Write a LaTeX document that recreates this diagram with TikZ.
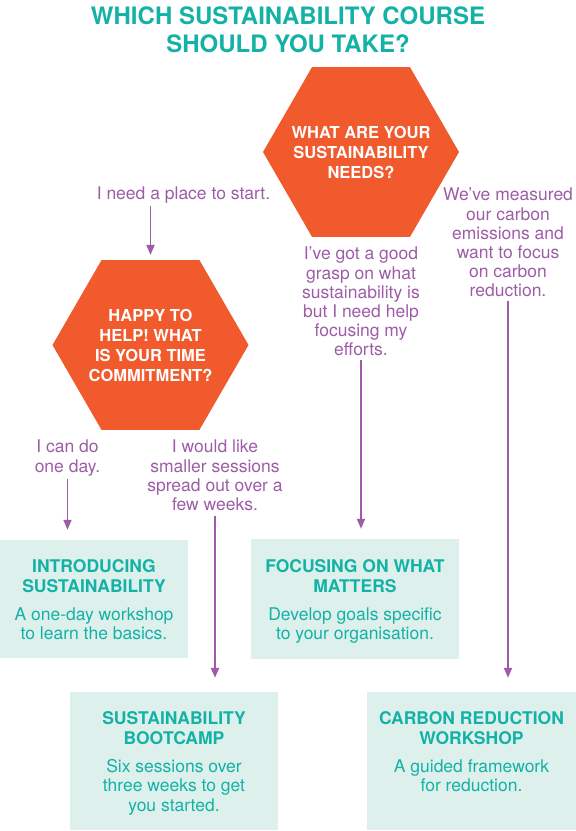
\documentclass[tikz,border=0pt]{standalone}
\usepackage{fontspec}
\setmainfont{TeX Gyre Heros}
\usetikzlibrary{shapes.geometric, positioning, arrows.meta}

\definecolor{hexorange}{HTML}{F15A2C}
\definecolor{titleteal}{HTML}{14B2A6}
\definecolor{boxfill}{HTML}{DDF0EC}
\definecolor{labelpurple}{HTML}{9E5CA7}

\tikzset{
  question/.style={regular polygon, regular polygon sides=6, minimum size=196pt,
    inner sep=0pt, fill=hexorange},
  questiontext/.style={inner sep=0pt, align=center, text=white,
    font=\fontsize{16.5}{20}\selectfont\bfseries},
  answer/.style={anchor=north, inner sep=0pt, align=center, text=labelpurple,
    font=\fontsize{17.5}{19.2}\selectfont},
  course/.style={fill=boxfill, inner sep=0pt},
  coursetext/.style={inner sep=0pt, align=center, text=titleteal,
    font=\fontsize{17.5}{19.5}\selectfont},
  flow/.style={draw=labelpurple, line width=1.8pt,
    -{Triangle[length=10pt, width=8pt]}},
}

\begin{document}
\begin{tikzpicture}[x=1pt, y=-1pt]
  \useasboundingbox (0,0) rectangle (576,831);

  % title
  \node[anchor=north, inner sep=0pt, align=center, text=titleteal,
    font=\fontsize{24}{28}\selectfont\bfseries] (title) at (288,7)
    {WHICH SUSTAINABILITY COURSE\\SHOULD YOU TAKE?};

  % questions
  \node[question] (needs) at (361,152) {};
  \node[questiontext] (needs-text) at (needs) {WHAT ARE YOUR\\SUSTAINABILITY\\NEEDS?};
  \node[question] (time) at (150.5,345) {};
  \node[questiontext] (time-text) at (time) {HAPPY TO\\HELP! WHAT\\IS YOUR TIME\\COMMITMENT?};

  % answers
  \node[answer] (start) at (183.5,187) {I need a place to start.};
  \node[answer] (oneday) at (67.5,440) {I can do\\one day.};
  \node[answer] (weeks) at (215,440) {I would like\\smaller sessions\\spread out over a\\few weeks.};
  \node[answer] (grasp) at (361,247) {I’ve got a good\\grasp on what\\sustainability is\\but I need help\\focusing my\\efforts.};
  \node[answer] (measured) at (508,188) {We’ve measured\\our carbon\\emissions and\\want to focus\\on carbon\\reduction.};

  % courses
  \node[course, minimum width=188pt, minimum height=118pt] (intro) at (94,599) {};
  \node[course, minimum width=208pt, minimum height=120pt] (focus) at (355,599) {};
  \node[course, minimum width=208pt, minimum height=138pt] (bootcamp) at (174,761) {};
  \node[course, minimum width=209pt, minimum height=138pt] (carbon) at (471.5,761) {};

  \node[coursetext, below=20pt of intro.north] (intro-text)
    {\textbf{INTRODUCING}\\\textbf{SUSTAINABILITY}\\[8.5pt]A one-day workshop\\to learn the basics.};
  \node[coursetext, below=21pt of focus.north] (focus-text)
    {\textbf{FOCUSING ON WHAT}\\\textbf{MATTERS}\\[8.5pt]Develop goals specific\\to your organisation.};
  \node[coursetext, below=20pt of bootcamp.north] (bootcamp-text)
    {\textbf{SUSTAINABILITY}\\\textbf{BOOTCAMP}\\[8.5pt]Six sessions over\\three weeks to get\\you started.};
  \node[coursetext, below=20pt of carbon.north] (carbon-text)
    {\textbf{CARBON REDUCTION}\\\textbf{WORKSHOP}\\[8.5pt]A guided framework\\for reduction.};

  % arrows
  \draw[flow, shorten <=2pt, shorten >=5pt] (start.south -| time.north) -- (time.north);
  \draw[flow, shorten <=3pt, shorten >=10pt] (oneday.south) -- (oneday.south |- intro.north);
  \draw[flow, shorten <=5pt, shorten >=14pt] (weeks.south) -- (weeks.south |- bootcamp.north);
  \draw[flow, shorten <=4pt, shorten >=10pt] (grasp.south) -- (grasp.south |- focus.north);
  \draw[flow, shorten <=4pt, shorten >=14pt] (measured.south) -- (measured.south |- carbon.north);
\end{tikzpicture}
\end{document}
